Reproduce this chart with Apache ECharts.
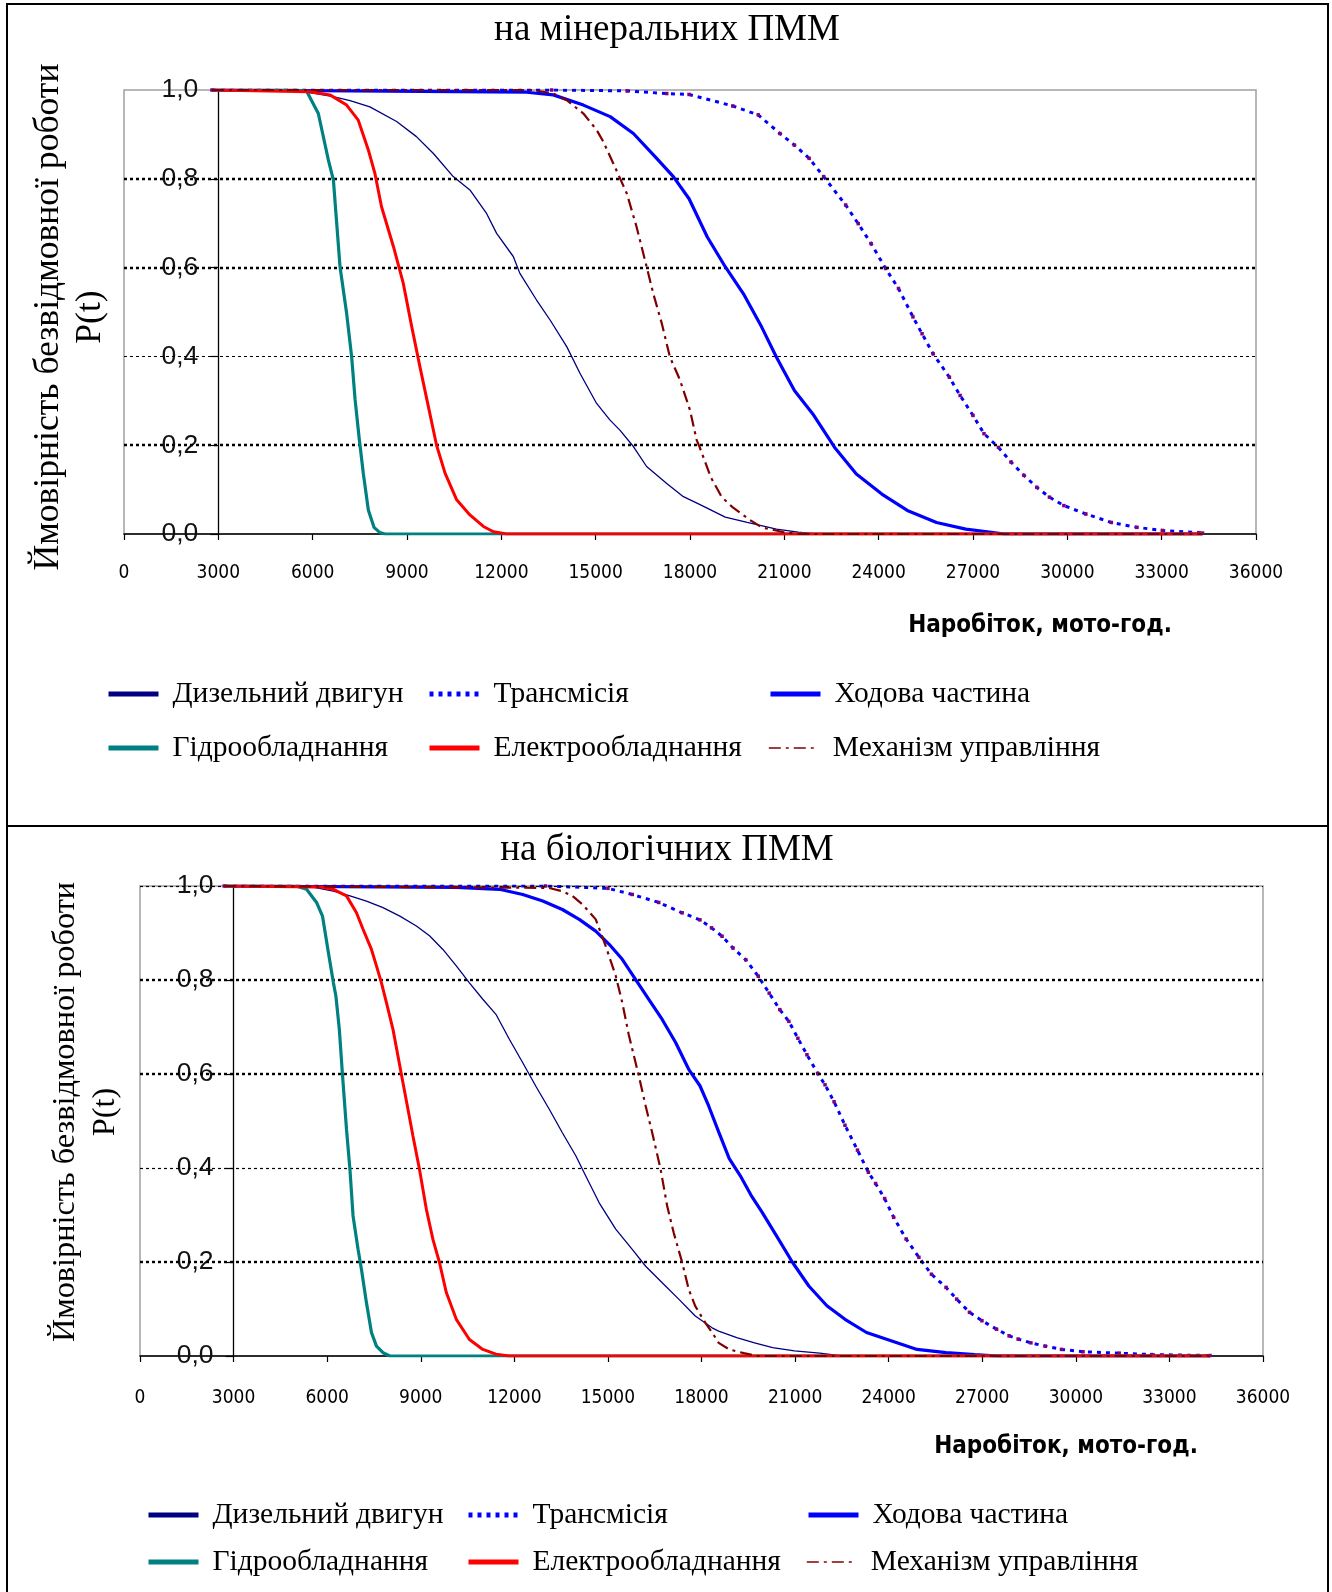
<!DOCTYPE html>
<html>
<head>
<meta charset="utf-8">
<script src="https://cdn.jsdelivr.net/npm/echarts@6/dist/echarts.min.js"></script>
<style>
html,body{margin:0;padding:0;background:#fff;}
#main{width:1332px;height:1592px;}
</style>
</head>
<body>
<div id="main"></div>
<script>
// ---------- DATA ----------
const seriesNames = ['Дизельний двигун','Трансмісія','Ходова частина','Гідрообладнання','Електрообладнання','Механізм управління'];
const chartTitles = ['на мінеральних ПММ','на біологічних ПММ'];
const yAxisTitle = 'Ймовірність безвідмовної роботи';
const yAxisTitle2 = 'P(t)';
const xAxisTitle = 'Наробіток, мото-год.';
const xTicks = [0,3000,6000,9000,12000,15000,18000,21000,24000,27000,30000,33000,36000];
const yTicks = [0,0.2,0.4,0.6,0.8,1.0];

// mineral oils (top chart): [hours, P(t)]
const minDiesel = [[2800,1],[5500,0.998],[6100,0.992],[6650,0.985],[7190,0.976],[7820,0.962],[8670,0.929],[9300,0.895],[9840,0.857],[10470,0.805],[11000,0.775],[11530,0.722],[11850,0.677],[12380,0.625],[12590,0.587],[13120,0.527],[13550,0.482],[14080,0.422],[14500,0.362],[15030,0.294],[15450,0.257],[15770,0.234],[16200,0.197],[16620,0.152],[17260,0.114],[17790,0.084],[18320,0.066],[19120,0.038],[19820,0.026],[20750,0.011],[21440,0.004],[22000,0],[34300,0]];
const minTransmission = [[2800,1],[13600,1],[16000,0.998],[17260,0.992],[17970,0.99],[19360,0.964],[20170,0.944],[20860,0.902],[21320,0.876],[21790,0.846],[22250,0.805],[22950,0.741],[23350,0.699],[23760,0.654],[24220,0.598],[24630,0.553],[25090,0.489],[25380,0.451],[25730,0.406],[26250,0.353],[26590,0.312],[27000,0.267],[27350,0.226],[27810,0.195],[28210,0.162],[28620,0.132],[29030,0.105],[29430,0.083],[29890,0.064],[30590,0.045],[31400,0.026],[32210,0.015],[33020,0.008],[34180,0.003],[34300,0.002]];
const minUndercarriage = [[2800,1],[12800,0.995],[13650,0.989],[14610,0.966],[15460,0.94],[16200,0.902],[16940,0.846],[17470,0.805],[17970,0.755],[18550,0.669],[19120,0.602],[19700,0.541],[20280,0.466],[20750,0.398],[21320,0.323],[21900,0.271],[22600,0.195],[23290,0.135],[24100,0.09],[24910,0.053],[25840,0.026],[26770,0.011],[27580,0.004],[28000,0],[34300,0]];
const minHydro = [[2800,1],[5500,1],[5810,0.997],[6180,0.947],[6500,0.842],[6660,0.797],[6740,0.722],[6870,0.602],[7080,0.497],[7240,0.399],[7350,0.302],[7480,0.215],[7610,0.137],[7770,0.054],[7950,0.015],[8140,0.003],[8300,0],[34300,0]];
const minElectro = [[2800,1],[5900,0.996],[6550,0.989],[7080,0.966],[7450,0.932],[7770,0.865],[7980,0.812],[8190,0.737],[8570,0.647],[8880,0.565],[9150,0.467],[9410,0.377],[9680,0.287],[9940,0.2],[10210,0.137],[10580,0.077],[11000,0.043],[11430,0.017],[11750,0.005],[12170,0],[34300,0]];
const minMechanism = [[2800,1],[13000,1],[13650,0.992],[14080,0.977],[14610,0.947],[15030,0.91],[15240,0.884],[15610,0.827],[15990,0.767],[16300,0.692],[16620,0.602],[16830,0.542],[17100,0.475],[17360,0.399],[17680,0.347],[18000,0.279],[18210,0.212],[18310,0.195],[18660,0.128],[19010,0.083],[19360,0.06],[19940,0.03],[20280,0.015],[20980,0.004],[21500,0],[34300,0]];

// biological oils (bottom chart): [hours, P(t)]
const bioDiesel = [[2700,1],[5500,0.998],[6200,0.989],[6730,0.979],[7260,0.968],[7790,0.954],[8330,0.936],[8860,0.915],[9280,0.894],[9710,0.865],[10140,0.83],[10560,0.794],[10990,0.759],[11410,0.727],[11840,0.674],[12270,0.624],[12690,0.574],[13120,0.525],[13540,0.475],[13970,0.426],[14290,0.383],[14720,0.326],[15250,0.27],[15780,0.227],[16210,0.191],[16740,0.156],[17270,0.121],[17800,0.085],[18340,0.06],[18550,0.053],[19130,0.039],[19700,0.028],[20280,0.018],[20980,0.011],[21790,0.006],[22500,0],[34300,0]];
const bioTransmission = [[2700,1],[13000,1],[15000,0.995],[15780,0.982],[16630,0.965],[17380,0.943],[17950,0.928],[18320,0.911],[18660,0.893],[19010,0.868],[19420,0.843],[19820,0.808],[20170,0.772],[20510,0.737],[20800,0.712],[21090,0.676],[21380,0.641],[21730,0.601],[21960,0.577],[22250,0.541],[22600,0.491],[23000,0.438],[23350,0.391],[23580,0.367],[23870,0.335],[24160,0.295],[24560,0.249],[24970,0.21],[25370,0.174],[25840,0.146],[26180,0.121],[26590,0.093],[26990,0.075],[27460,0.057],[27860,0.043],[28150,0.036],[28560,0.028],[29020,0.021],[29540,0.014],[30230,0.009],[31390,0.006],[32430,0.003],[34300,0.001]];
const bioUndercarriage = [[2700,1],[10140,0.997],[11520,0.993],[12270,0.982],[12910,0.968],[13540,0.95],[14080,0.929],[14610,0.904],[15040,0.876],[15460,0.844],[15890,0.801],[16310,0.759],[16740,0.716],[17170,0.667],[17590,0.61],[17950,0.575],[18230,0.532],[18550,0.477],[18890,0.42],[19240,0.384],[19590,0.342],[19940,0.306],[20400,0.256],[20920,0.199],[21440,0.149],[22020,0.107],[22600,0.078],[23290,0.05],[24100,0.032],[24910,0.014],[25840,0.007],[26760,0.003],[27500,0],[34300,0]];
const bioHydro = [[2700,1],[5000,1],[5340,0.993],[5660,0.965],[5850,0.936],[6040,0.858],[6200,0.794],[6280,0.766],[6390,0.695],[6490,0.599],[6620,0.482],[6730,0.397],[6830,0.298],[6990,0.227],[7100,0.184],[7260,0.113],[7420,0.05],[7580,0.021],[7790,0.007],[8010,0],[34300,0]];
const bioElectro = [[2700,1],[5800,0.998],[6200,0.993],[6620,0.979],[6940,0.943],[7150,0.908],[7420,0.865],[7580,0.83],[7740,0.794],[7900,0.752],[8110,0.695],[8380,0.599],[8590,0.525],[8750,0.468],[8960,0.397],[9180,0.312],[9390,0.248],[9600,0.199],[9820,0.135],[10140,0.078],[10560,0.035],[10990,0.014],[11410,0.004],[11840,0],[34300,0]];
const bioMechanism = [[2700,1],[13100,0.996],[13540,0.989],[13860,0.979],[14180,0.961],[14610,0.929],[14930,0.872],[15250,0.809],[15460,0.752],[15670,0.683],[15990,0.596],[16210,0.532],[16420,0.475],[16690,0.397],[16900,0.319],[17110,0.262],[17380,0.199],[17590,0.142],[17800,0.106],[18120,0.071],[18340,0.05],[18550,0.028],[18890,0.014],[19360,0.006],[19820,0],[34300,0]];

const gridLevelsTop = [0.2,0.4,0.6,0.8];
const gridLevelsBottom = [0.2,0.4,0.6,0.8,1.0];
const yAxisAt = 3000;

// ---------- STYLE / LAYOUT ----------
const SERIF = "'Liberation Serif','Times New Roman',serif";
const NARROW = "'Liberation Sans Narrow','Arial Narrow','DejaVu Sans Condensed',sans-serif";
const SANS = "'Liberation Sans',Arial,sans-serif";

const styles = [
  {color:'#000080', width:1.3, type:'solid', legendWidth:5},
  {color:'#0000ff', width:3, type:[4,5], legendWidth:5, marker:'#800080'},
  {color:'#0000ff', width:3.2, type:'solid', legendWidth:5},
  {color:'#008080', width:3.2, type:'solid', legendWidth:5},
  {color:'#ff0000', width:3, type:'solid', legendWidth:5},
  {color:'#800000', width:2.2, type:[12,5,3,5], legendWidth:1.6}
];

const panels = [
  {grid:{left:124, top:90, width:1132, height:444}, data:[minDiesel,minTransmission,minUndercarriage,minHydro,minElectro,minMechanism],
   levels:gridLevelsTop, thin:[0.4], titleY:30, titleSize:37, xName:[1040,626], yName:[49,91,317], yNameSize:35.6,
   legendRows:[694,748], legendCols:[170,491,832], labelMarginX:30, labelMarginY:20},
  {grid:{left:140, top:886, width:1123, height:470}, data:[bioDiesel,bioTransmission,bioUndercarriage,bioHydro,bioElectro,bioMechanism],
   levels:gridLevelsBottom, thin:[0.4,1.0], titleY:850, titleSize:37, xName:[1066,1447], yName:[66,106,1112], yNameSize:32.3,
   legendRows:[1515,1562], legendCols:[210,530,870], labelMarginX:33, labelMarginY:20}
];

const grids=[], xAxes=[], yAxes=[], series=[], legends=[], graphics=[];

graphics.push({type:'rect', shape:{x:7,y:4,width:1321,height:1589}, style:{fill:'none', stroke:'#000', lineWidth:2}, z:100});
graphics.push({type:'line', shape:{x1:7,y1:826,x2:1328,y2:826}, style:{stroke:'#000', lineWidth:2}, z:100});

panels.forEach((p, i) => {
  grids.push(Object.assign({show:true, borderColor:'#a0a0a0', borderWidth:1.5, backgroundColor:'transparent'}, p.grid));
  xAxes.push({type:'value', gridIndex:i, min:xTicks[0], max:xTicks[xTicks.length-1], interval:xTicks[1]-xTicks[0],
    axisLine:{lineStyle:{color:'#000', width:1.5}}, axisTick:{length:6, lineStyle:{color:'#000', width:1.2}},
    splitLine:{show:false},
    axisLabel:{margin:p.labelMarginX, color:'#000', fontFamily:"'DejaVu Sans Condensed','Liberation Sans',sans-serif", fontSize:19, formatter:v=>String(v)}});
  const off = -(p.grid.width * (yAxisAt - xTicks[0]) / (xTicks[xTicks.length-1]-xTicks[0]));
  yAxes.push({type:'value', gridIndex:i, min:yTicks[0], max:yTicks[yTicks.length-1], interval:yTicks[1]-yTicks[0], offset:off,
    axisLine:{show:true, lineStyle:{color:'#000', width:1.3}}, axisTick:{show:true, length:8, lineStyle:{color:'#000', width:1.2}},
    splitLine:{show:false},
    axisLabel:{margin:p.labelMarginY, color:'#111', fontFamily:SANS, fontSize:26.5, formatter:v=>v.toFixed(1).replace('.',',')}});
  // dotted horizontal gridlines
  series.push({type:'line', xAxisIndex:i, yAxisIndex:i, data:[], silent:true, z:1,
    markLine:{silent:true, symbol:'none', animation:false, label:{show:false},
      data:p.levels.map(v=>({yAxis:v, lineStyle:{color:'#000', type:[3,3], width:p.thin.includes(v)?1.2:2.4}}))}});
  seriesNames.forEach((nm, k) => {
    const st = styles[k];
    const s = {type:'line', name:nm, xAxisIndex:i, yAxisIndex:i, data:p.data[k], symbol:'none', showSymbol:false,
      lineStyle:{color:st.color, width:st.width, type:st.type}, itemStyle:{color:st.color}, z:3+k, animation:false};
    if (st.marker) { s.symbol = 'rect'; s.showSymbol = true; s.symbolSize = 3.5; s.itemStyle = {color:st.marker}; }
    series.push(s);
  });
  graphics.push({type:'text', x:667, y:p.titleY, style:{text:chartTitles[i], font:p.titleSize+'px '+SERIF, fill:'#000', align:'center', verticalAlign:'middle'}});
  graphics.push({type:'text', x:p.xName[0], y:p.xName[1], style:{text:xAxisTitle, font:'bold 24px '+NARROW, fill:'#000', align:'center', verticalAlign:'middle'}});
  graphics.push({type:'text', x:p.yName[0], y:p.yName[2], rotation:Math.PI/2, style:{text:yAxisTitle, font:p.yNameSize+'px '+SERIF, fill:'#000', align:'center', verticalAlign:'middle'}});
  graphics.push({type:'text', x:p.yName[1], y:p.yName[2], rotation:Math.PI/2, style:{text:yAxisTitle2, font:p.yNameSize+'px '+SERIF, fill:'#000', align:'center', verticalAlign:'middle'}});
  seriesNames.forEach((nm, k) => {
    const row = Math.floor(k/3), col = k%3;
    const st = styles[k];
    legends.push({show:true, selectedMode:false, padding:0, left:p.legendCols[col]-64, top:p.legendRows[row]-15, itemWidth:50, itemHeight:30,
      data:[{name:nm, lineStyle:{width:st.legendWidth, color:st.color, type:st.type}, itemStyle:{opacity:0}}],
      textStyle:{fontFamily:SERIF, fontSize:29.5, color:'#000', padding:[0,0,0,9]}});
  });
});

const chart = echarts.init(document.getElementById('main'), null, {renderer:'canvas'});
chart.setOption({animation:false, backgroundColor:'#fff', grid:grids, xAxis:xAxes, yAxis:yAxes, series:series, legend:legends, graphic:graphics});
</script>
</body>
</html>
